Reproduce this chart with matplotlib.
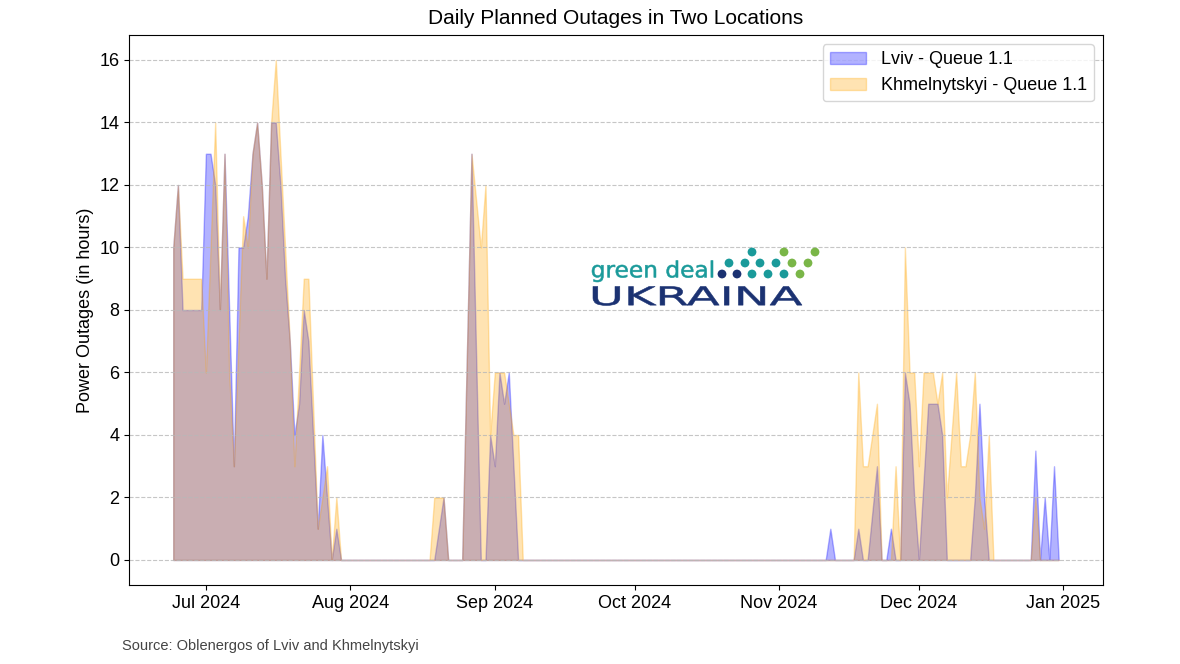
import numpy as np
import pandas as pd
import matplotlib
matplotlib.use("Agg")
import matplotlib.pyplot as plt
import matplotlib.dates as mdates
from matplotlib.textpath import TextPath
from matplotlib.font_manager import FontProperties
from matplotlib.patches import PathPatch
from matplotlib.transforms import Affine2D

plt.rcParams['font.family'] = ['Liberation Sans', 'DejaVu Sans']

## daily values, 2024-06-24 .. 2024-12-31
dates = pd.date_range("2024-06-24", "2024-12-31", freq="D")

lviv = [
    10, 12, 8, 8, 8, 8, 8, 13, 13, 12,
    8, 13, 8, 3, 10, 10, 11, 13, 14, 12,
    9, 14, 14, 12, 9, 7, 4, 5, 8, 7,
    4, 1, 4, 2, 0, 1, 0, 0, 0, 0,
    0, 0, 0, 0, 0, 0, 0, 0, 0, 0,
    0, 0, 0, 0, 0, 0, 0, 1, 2, 0,
    0, 0, 0, 6.5, 13, 6.5, 0, 0, 4, 3,
    6, 5, 6, 3, 0, 0, 0, 0, 0, 0,
    0, 0, 0, 0, 0, 0, 0, 0, 0, 0,
    0, 0, 0, 0, 0, 0, 0, 0, 0, 0,
    0, 0, 0, 0, 0, 0, 0, 0, 0, 0,
    0, 0, 0, 0, 0, 0, 0, 0, 0, 0,
    0, 0, 0, 0, 0, 0, 0, 0, 0, 0,
    0, 0, 0, 0, 0, 0, 0, 0, 0, 0,
    0, 1, 0, 0, 0, 0, 0, 1, 0, 0,
    1.5, 3, 0, 0, 1, 0, 0, 6, 5, 2,
    0, 2.5, 5, 5, 5, 4, 0, 0, 0, 0,
    0, 0, 2, 5, 2, 0, 0, 0, 0, 0,
    0, 0, 0, 0, 0, 3.5, 0, 2, 0, 3,
    0,
]

khmelnytskyi = [
    10, 12, 9, 9, 9, 9, 9, 6, 10, 14,
    8, 13, 6, 3, 7, 11, 10, 13, 14, 12,
    9, 14, 16, 13, 10, 7, 3, 6, 9, 9,
    5, 1, 2, 3, 0, 2, 0, 0, 0, 0,
    0, 0, 0, 0, 0, 0, 0, 0, 0, 0,
    0, 0, 0, 0, 0, 0, 2, 2, 2, 0,
    0, 0, 0, 6.5, 13, 11.5, 10, 12, 4, 6,
    6, 6, 5, 4, 4, 0, 0, 0, 0, 0,
    0, 0, 0, 0, 0, 0, 0, 0, 0, 0,
    0, 0, 0, 0, 0, 0, 0, 0, 0, 0,
    0, 0, 0, 0, 0, 0, 0, 0, 0, 0,
    0, 0, 0, 0, 0, 0, 0, 0, 0, 0,
    0, 0, 0, 0, 0, 0, 0, 0, 0, 0,
    0, 0, 0, 0, 0, 0, 0, 0, 0, 0,
    0, 0, 0, 0, 0, 0, 0, 6, 3, 3,
    4, 5, 0, 0, 0, 3, 0, 10, 6, 6,
    3, 6, 6, 6, 5, 6, 2, 4, 6, 3,
    3, 4, 6, 2, 1, 4, 0, 0, 0, 0,
    0, 0, 0, 0, 0, 2, 0, 0, 0, 0,
    0,
]

fig = plt.figure(figsize=(11.8, 6.64), dpi=100)
ax = fig.add_axes([0.1093, 0.119, 0.8254, 0.8283])

ax.fill_between(dates, lviv, color='blue', alpha=0.3, label='Lviv - Queue 1.1')
ax.fill_between(dates, khmelnytskyi, color='orange', alpha=0.3, label='Khmelnytskyi - Queue 1.1')

ax.set_title('Daily Planned Outages in Two Locations', fontsize=15, pad=8)
ax.set_ylabel('Power Outages (in hours)', fontsize=13)
ax.set_yticks(np.arange(0, 17, 2))
ax.xaxis.set_major_locator(mdates.MonthLocator())
ax.xaxis.set_major_formatter(mdates.DateFormatter('%b %Y'))
ax.tick_params(labelsize=13)
ax.grid(axis='y', linestyle='--', color='#b8b8b8', alpha=0.8)
ax.legend(loc='upper right', fontsize=13)

fig.text(122 / 1180, 1 - 646 / 664, 'Source: Oblenergos of Lviv and Khmelnytskyi',
         fontsize=10.5, color='#444444', va='center')

## logo, drawn in figure pixels
logo = fig.add_axes([0, 0, 1, 1], zorder=5)
logo.set_xlim(0, 1180)
logo.set_ylim(664, 0)
logo.axis('off')


def fit_text(s, x0, x1, ytop, ybot, color, weight='normal'):
    tp = TextPath((0, 0), s, size=10, prop=FontProperties(family='DejaVu Sans', weight=weight))
    bb = tp.get_extents()
    tr = Affine2D().translate(-bb.x0, -bb.y1).scale((x1 - x0) / bb.width, -(ybot - ytop) / bb.height).translate(x0, ytop)
    logo.add_patch(PathPatch(tr.transform_path(tp), fc=color, ec=color, lw=0.4))


fit_text('green deal', 592, 713, 260.5, 282, '#1a9a9a')
fit_text('UKRAINA', 593, 802, 286.5, 305.5, '#1b3272')

dot_x = [752, 784, 815, 729, 745, 760, 776, 792, 808, 722, 737, 752, 768, 784, 800]
dot_y = [252, 252, 252, 263, 263, 263, 263, 263, 263, 274, 274, 274, 274, 274, 274]
dot_c = ['#1a9a9a', '#7ab648', '#7ab648',
         '#1a9a9a', '#1a9a9a', '#1a9a9a', '#1a9a9a', '#7ab648', '#7ab648',
         '#1b3272', '#1b3272', '#1a9a9a', '#1a9a9a', '#1a9a9a', '#7ab648']
logo.scatter(dot_x, dot_y, s=40, c=dot_c, linewidths=0)

fig.savefig('out.png', dpi=100)
